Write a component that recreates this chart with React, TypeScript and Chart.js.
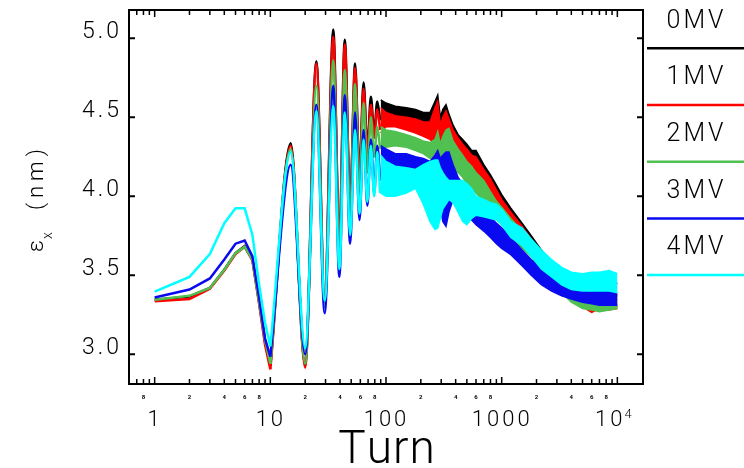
import React, { useEffect, useRef } from 'react';
import { Chart, registerables } from 'chart.js';

Chart.register(...registerables);

// ---------- data ----------
const seriesNames = ['0MV', '1MV', '2MV', '3MV', '4MV'];
const seriesColors = ['#000000', '#ff0000', '#50c050', '#0a0af0', '#00ffff'];

// first turns (1..10): one value per turn
const startTurns = [1, 2, 3, 4, 5, 6, 7, 8, 9, 10];
const start0MV = [3.345, 3.365, 3.42, 3.535, 3.64, 3.685, 3.6, 3.33, 3.08, 2.925];
const start1MV = [3.335, 3.35, 3.415, 3.53, 3.635, 3.68, 3.595, 3.32, 3.06, 2.905];
const start2MV = [3.345, 3.37, 3.42, 3.535, 3.64, 3.68, 3.6, 3.33, 3.09, 2.94];
const start3MV = [3.36, 3.41, 3.48, 3.6, 3.7, 3.72, 3.62, 3.36, 3.1, 2.985];
const start4MV = [3.396, 3.49, 3.634, 3.83, 3.924, 3.924, 3.755, 3.44, 3.2, 3.05];

// resolved oscillation (turn 10..89): values at the extrema
const oscTurns = [10, 15, 20, 25, 29.5, 35, 39.5, 44, 49, 54, 59, 64, 69, 74, 79, 84, 89];
const osc0MV = [2.925, 4.335, 2.93, 4.855, 3.35, 5.055, 3.7, 4.99, 3.95, 4.84, 4.15, 4.72, 4.3, 4.63, 4.4, 4.6, 4.48];
const osc1MV = [2.905, 4.32, 2.915, 4.84, 3.33, 5.01, 3.68, 4.96, 3.92, 4.81, 4.12, 4.68, 4.27, 4.58, 4.37, 4.55, 4.42];
const osc2MV = [2.94, 4.3, 2.94, 4.7, 3.3, 4.86, 3.62, 4.8, 3.85, 4.71, 4.02, 4.59, 4.15, 4.5, 4.25, 4.44, 4.3];
const osc3MV = [2.985, 4.2, 3.0, 4.58, 3.26, 4.7, 3.49, 4.64, 3.7, 4.53, 3.85, 4.42, 3.94, 4.36, 4.02, 4.32, 4.1];
const osc4MV = [3.05, 4.28, 3.04, 4.54, 3.34, 4.57, 3.54, 4.53, 3.755, 4.42, 3.89, 4.36, 3.965, 4.32, 4.0, 4.28, 4.02];

// unresolved fast oscillation (turn 90..10000): upper / lower envelope of the band
const bandTurns = [90, 100, 120, 150, 180, 210, 240, 265, 280, 295, 310, 330, 350, 380, 420, 460, 500, 550, 600, 700, 800, 900, 1000, 1200, 1500, 1800, 2200, 2700, 3300, 4000, 5000, 6000, 7000, 8500, 10000];
const hi0MV = [4.61, 4.59, 4.57, 4.56, 4.55, 4.53, 4.53, 4.6, 4.64, 4.5, 4.55, 4.58, 4.52, 4.45, 4.39, 4.36, 4.33, 4.29, 4.29, 4.2, 4.135, 4.07, 4.01, 3.925, 3.83, 3.75, 3.66, 3.58, 3.5, 3.44, 3.38, 3.36, 3.36, 3.37, 3.38];
const lo0MV = [4.45, 4.48, 4.48, 4.46, 4.44, 4.42, 4.4, 4.38, 4.36, 4.33, 4.32, 4.33, 4.33, 4.3, 4.26, 4.22, 4.19, 4.15, 4.12, 4.06, 4.0, 3.95, 3.9, 3.84, 3.76, 3.68, 3.59, 3.5, 3.42, 3.35, 3.31, 3.3, 3.3, 3.3, 3.3];
const hi1MV = [4.56, 4.53, 4.51, 4.5, 4.49, 4.47, 4.47, 4.56, 4.6, 4.45, 4.5, 4.54, 4.49, 4.42, 4.37, 4.33, 4.3, 4.26, 4.25, 4.17, 4.11, 4.04, 3.98, 3.9, 3.81, 3.73, 3.64, 3.56, 3.48, 3.42, 3.37, 3.35, 3.35, 3.36, 3.37];
const lo1MV = [4.4, 4.44, 4.44, 4.42, 4.4, 4.38, 4.36, 4.33, 4.31, 4.29, 4.28, 4.27, 4.27, 4.25, 4.22, 4.19, 4.17, 4.13, 4.1, 4.04, 3.97, 3.92, 3.87, 3.82, 3.75, 3.67, 3.58, 3.49, 3.41, 3.34, 3.3, 3.265, 3.29, 3.28, 3.29];
const hi2MV = [4.44, 4.42, 4.41, 4.39, 4.37, 4.35, 4.34, 4.36, 4.41, 4.33, 4.38, 4.42, 4.43, 4.35, 4.3, 4.26, 4.22, 4.19, 4.15, 4.1, 4.03, 3.97, 3.93, 3.86, 3.78, 3.72, 3.63, 3.56, 3.48, 3.42, 3.38, 3.35, 3.33, 3.34, 3.35];
const lo2MV = [4.3, 4.31, 4.32, 4.31, 4.29, 4.27, 4.24, 4.22, 4.2, 4.18, 4.18, 4.2, 4.2, 4.18, 4.15, 4.12, 4.08, 4.05, 4.02, 3.97, 3.92, 3.87, 3.82, 3.76, 3.67, 3.62, 3.53, 3.46, 3.39, 3.33, 3.29, 3.28, 3.27, 3.28, 3.29];
const hi3MV = [4.32, 4.3, 4.27, 4.27, 4.25, 4.24, 4.22, 4.26, 4.29, 4.24, 4.26, 4.28, 4.28, 4.2, 4.12, 4.08, 4.05, 4.0, 3.96, 3.92, 3.87, 3.83, 3.8, 3.74, 3.66, 3.6, 3.55, 3.5, 3.47, 3.45, 3.44, 3.44, 3.44, 3.45, 3.45];
const lo3MV = [4.1, 4.15, 4.18, 4.17, 4.16, 4.15, 4.07, 4.05, 4.0, 3.93, 3.84, 3.81, 3.9, 3.98, 3.95, 3.92, 3.88, 3.85, 3.82, 3.78, 3.74, 3.7, 3.67, 3.63, 3.56, 3.5, 3.44, 3.4, 3.37, 3.35, 3.33, 3.32, 3.31, 3.31, 3.31];
const hi4MV = [4.26, 4.22, 4.19, 4.18, 4.17, 4.2, 4.22, 4.23, 4.23, 4.18, 4.15, 4.12, 4.1, 4.1, 4.1, 4.1, 4.08, 4.05, 4.0, 3.98, 3.96, 3.95, 3.92, 3.84, 3.8, 3.73, 3.66, 3.6, 3.55, 3.52, 3.51, 3.52, 3.52, 3.53, 3.51];
const lo4MV = [4.02, 4.0, 4.0, 4.02, 4.05, 3.95, 3.84, 3.79, 3.8, 3.86, 3.92, 3.95, 3.98, 3.96, 3.9, 3.84, 3.82, 3.86, 3.88, 3.87, 3.86, 3.85, 3.82, 3.74, 3.69, 3.62, 3.54, 3.49, 3.44, 3.41, 3.4, 3.4, 3.4, 3.4, 3.39];

const startSeries = [start0MV, start1MV, start2MV, start3MV, start4MV];
const oscSeries = [osc0MV, osc1MV, osc2MV, osc3MV, osc4MV];
const hiSeries = [hi0MV, hi1MV, hi2MV, hi3MV, hi4MV];
const loSeries = [lo0MV, lo1MV, lo2MV, lo3MV, lo4MV];

// axes
const xMin = 0.617;
const xMax = 16660;
const yMin = 2.812;
const yMax = 5.179;
const yTickValues = [3.0, 3.5, 4.0, 4.5, 5.0];
const yTickLabels = ['3.0', '3.5', '4.0', '4.5', '5.0'];
const xMajorValues = [1, 10, 100, 1000, 10000];
const xMajorLabels = ['1', '10', '100', '1000', '10^4'];
const xMinorLabelMultipliers = [2, 4, 6, 8];
const xTitle = 'Turn';

const FONT = 'Roboto, "DejaVu Sans", sans-serif';

function drawSpaced(ctx: CanvasRenderingContext2D, text: string, x: number, y: number, align: string, spacing: number) {
  const chars = Array.from(text);
  const widths = chars.map((c) => ctx.measureText(c).width);
  const total = widths.reduce((a, b) => a + b, 0) + spacing * (chars.length - 1);
  let start = align === 'center' ? x - total / 2 : align === 'right' ? x - total : x;
  ctx.textAlign = 'left';
  chars.forEach((c, i) => {
    ctx.fillText(c, start, y);
    start += widths[i] + spacing;
  });
  return total;
}

const framePlugin = {
  id: 'idlFrame',
  afterDraw(chart: any) {
    const ctx: CanvasRenderingContext2D = chart.ctx;
    const a = chart.chartArea;
    const xs = chart.scales.x;
    const ys = chart.scales.y;
    ctx.save();
    ctx.strokeStyle = '#000';
    ctx.fillStyle = '#000';
    ctx.lineWidth = 2;
    ctx.strokeRect(a.left, a.top, a.right - a.left, a.bottom - a.top);

    // y ticks & labels
    ctx.font = `300 23px ${FONT}`;
    ctx.textBaseline = 'middle';
    yTickValues.forEach((v, i) => {
      const y = ys.getPixelForValue(v);
      ctx.beginPath();
      ctx.moveTo(a.left, y);
      ctx.lineTo(a.left + 6, y);
      ctx.moveTo(a.right, y);
      ctx.lineTo(a.right - 6, y);
      ctx.stroke();
      drawSpaced(ctx, yTickLabels[i], a.left - 10, y - 6, 'right', 3);
    });

    // x ticks
    ctx.lineWidth = 1.5;
    for (let e = -1; e <= 4; e++) {
      for (let m = 1; m <= 9; m++) {
        const v = m * Math.pow(10, e);
        if (v < xMin || v > 10000) continue;
        const x = xs.getPixelForValue(v);
        const len = m === 1 ? 7 : 5;
        ctx.beginPath();
        ctx.moveTo(x, a.bottom);
        ctx.lineTo(x, a.bottom - len);
        ctx.moveTo(x, a.top);
        ctx.lineTo(x, a.top + len);
        ctx.stroke();
      }
    }
    // tiny minor labels
    ctx.font = `bold 6px ${FONT}`;
    ctx.textBaseline = 'middle';
    ctx.textAlign = 'center';
    for (let e = -1; e <= 3; e++) {
      xMinorLabelMultipliers.forEach((m) => {
        const v = m * Math.pow(10, e);
        if (v < xMin || v > 10000) return;
        ctx.fillText(String(m), xs.getPixelForValue(v), a.bottom + 13);
      });
    }

    // major x labels
    ctx.font = `300 22px ${FONT}`;
    ctx.textBaseline = 'alphabetic';
    xMajorValues.forEach((v, i) => {
      const x = xs.getPixelForValue(v);
      const lab = xMajorLabels[i];
      if (lab.includes('^')) {
        const [base, exp] = lab.split('^');
        ctx.font = `300 22px ${FONT}`;
        const wb = Array.from(base).reduce((s, c) => s + ctx.measureText(c).width, 0) + 3 * (base.length - 1);
        ctx.font = `300 13px ${FONT}`;
        const we = ctx.measureText(exp).width;
        const total = wb + 2 + we;
        const start = x - 4 - total / 2;
        ctx.font = `300 22px ${FONT}`;
        drawSpaced(ctx, base, start, a.bottom + 42, 'left', 3);
        ctx.font = `300 13px ${FONT}`;
        ctx.fillText(exp, start + wb + 2, a.bottom + 34);
        ctx.font = `300 22px ${FONT}`;
      } else {
        drawSpaced(ctx, lab, x - 1, a.bottom + 42, 'center', 3);
      }
    });

    // x title
    ctx.font = `300 46px ${FONT}`;
    drawSpaced(ctx, xTitle, (a.left + a.right) / 2 + 0.5, 463, 'center', 1);

    // y title: epsilon_x (nm)
    ctx.save();
    ctx.translate(37, 252);
    ctx.rotate(-Math.PI / 2);
    ctx.textBaseline = 'alphabetic';
    ctx.textAlign = 'left';
    ctx.font = `300 22px ${FONT}`;
    ctx.fillText('\u03b5', 0, 6);
    const we = ctx.measureText('\u03b5').width;
    ctx.font = `300 14px ${FONT}`;
    ctx.fillText('x', we + 1, 15);
    ctx.font = `300 22px ${FONT}`;
    drawSpaced(ctx, '(nm)', 42, 6, 'left', 5);
    ctx.restore();

    // legend (outside, right)
    ctx.font = `300 25px ${FONT}`;
    ctx.textBaseline = 'middle';
    seriesNames.forEach((name, i) => {
      const ly = 48.3 + i * 56.7;
      ctx.fillStyle = '#000';
      drawSpaced(ctx, name, 695, ly - 27, 'center', 3);
      ctx.strokeStyle = seriesColors[i];
      ctx.lineWidth = 2.5;
      ctx.beginPath();
      ctx.moveTo(a.right + 4, ly);
      ctx.lineTo(chart.width, ly);
      ctx.stroke();
    });
    ctx.restore();
  },
};

export default function App() {
  const ref = useRef<HTMLCanvasElement | null>(null);
  useEffect(() => {
    if (!ref.current) return;
    const datasets: any[] = [];
    seriesNames.forEach((name, i) => {
      const color = seriesColors[i];
      const order = 10 * (5 - i);
      const common = { borderColor: color, backgroundColor: color, pointRadius: 0, order };
      datasets.push({
        ...common,
        label: name,
        data: startTurns.map((t, k) => ({ x: t, y: startSeries[i][k] })),
        borderWidth: 2.5,
        tension: 0,
        fill: false,
      });
      datasets.push({
        ...common,
        label: name + ' osc',
        data: oscTurns.map((t, k) => ({ x: t, y: oscSeries[i][k] })),
        borderWidth: 2.5,
        cubicInterpolationMode: 'monotone',
        fill: false,
      });
      datasets.push({
        ...common,
        label: name + ' hi',
        data: bandTurns.map((t, k) => ({ x: t, y: hiSeries[i][k] })),
        borderWidth: 1.5,
        tension: 0,
        fill: '+1',
      });
      datasets.push({
        ...common,
        label: name + ' lo',
        data: bandTurns.map((t, k) => ({ x: t, y: loSeries[i][k] })),
        borderWidth: 1.5,
        tension: 0,
        fill: false,
      });
    });
    const chart = new Chart(ref.current, {
      type: 'line',
      data: { datasets },
      options: {
        animation: false,
        responsive: false,
        devicePixelRatio: 1,
        layout: { padding: { left: 129, right: 101, top: 10, bottom: 84 } },
        plugins: { legend: { display: false }, tooltip: { enabled: false } },
        scales: {
          x: { type: 'logarithmic', min: xMin, max: xMax, display: false },
          y: { type: 'linear', min: yMin, max: yMax, display: false },
        },
      },
      plugins: [framePlugin],
    } as any);
    return () => chart.destroy();
  }, []);
  return (
    <div style={{ position: 'fixed', left: 0, top: 0, width: 744, height: 468, background: '#fff' }}>
      <canvas ref={ref} width={744} height={468} style={{ display: 'block' }} />
    </div>
  );
}
